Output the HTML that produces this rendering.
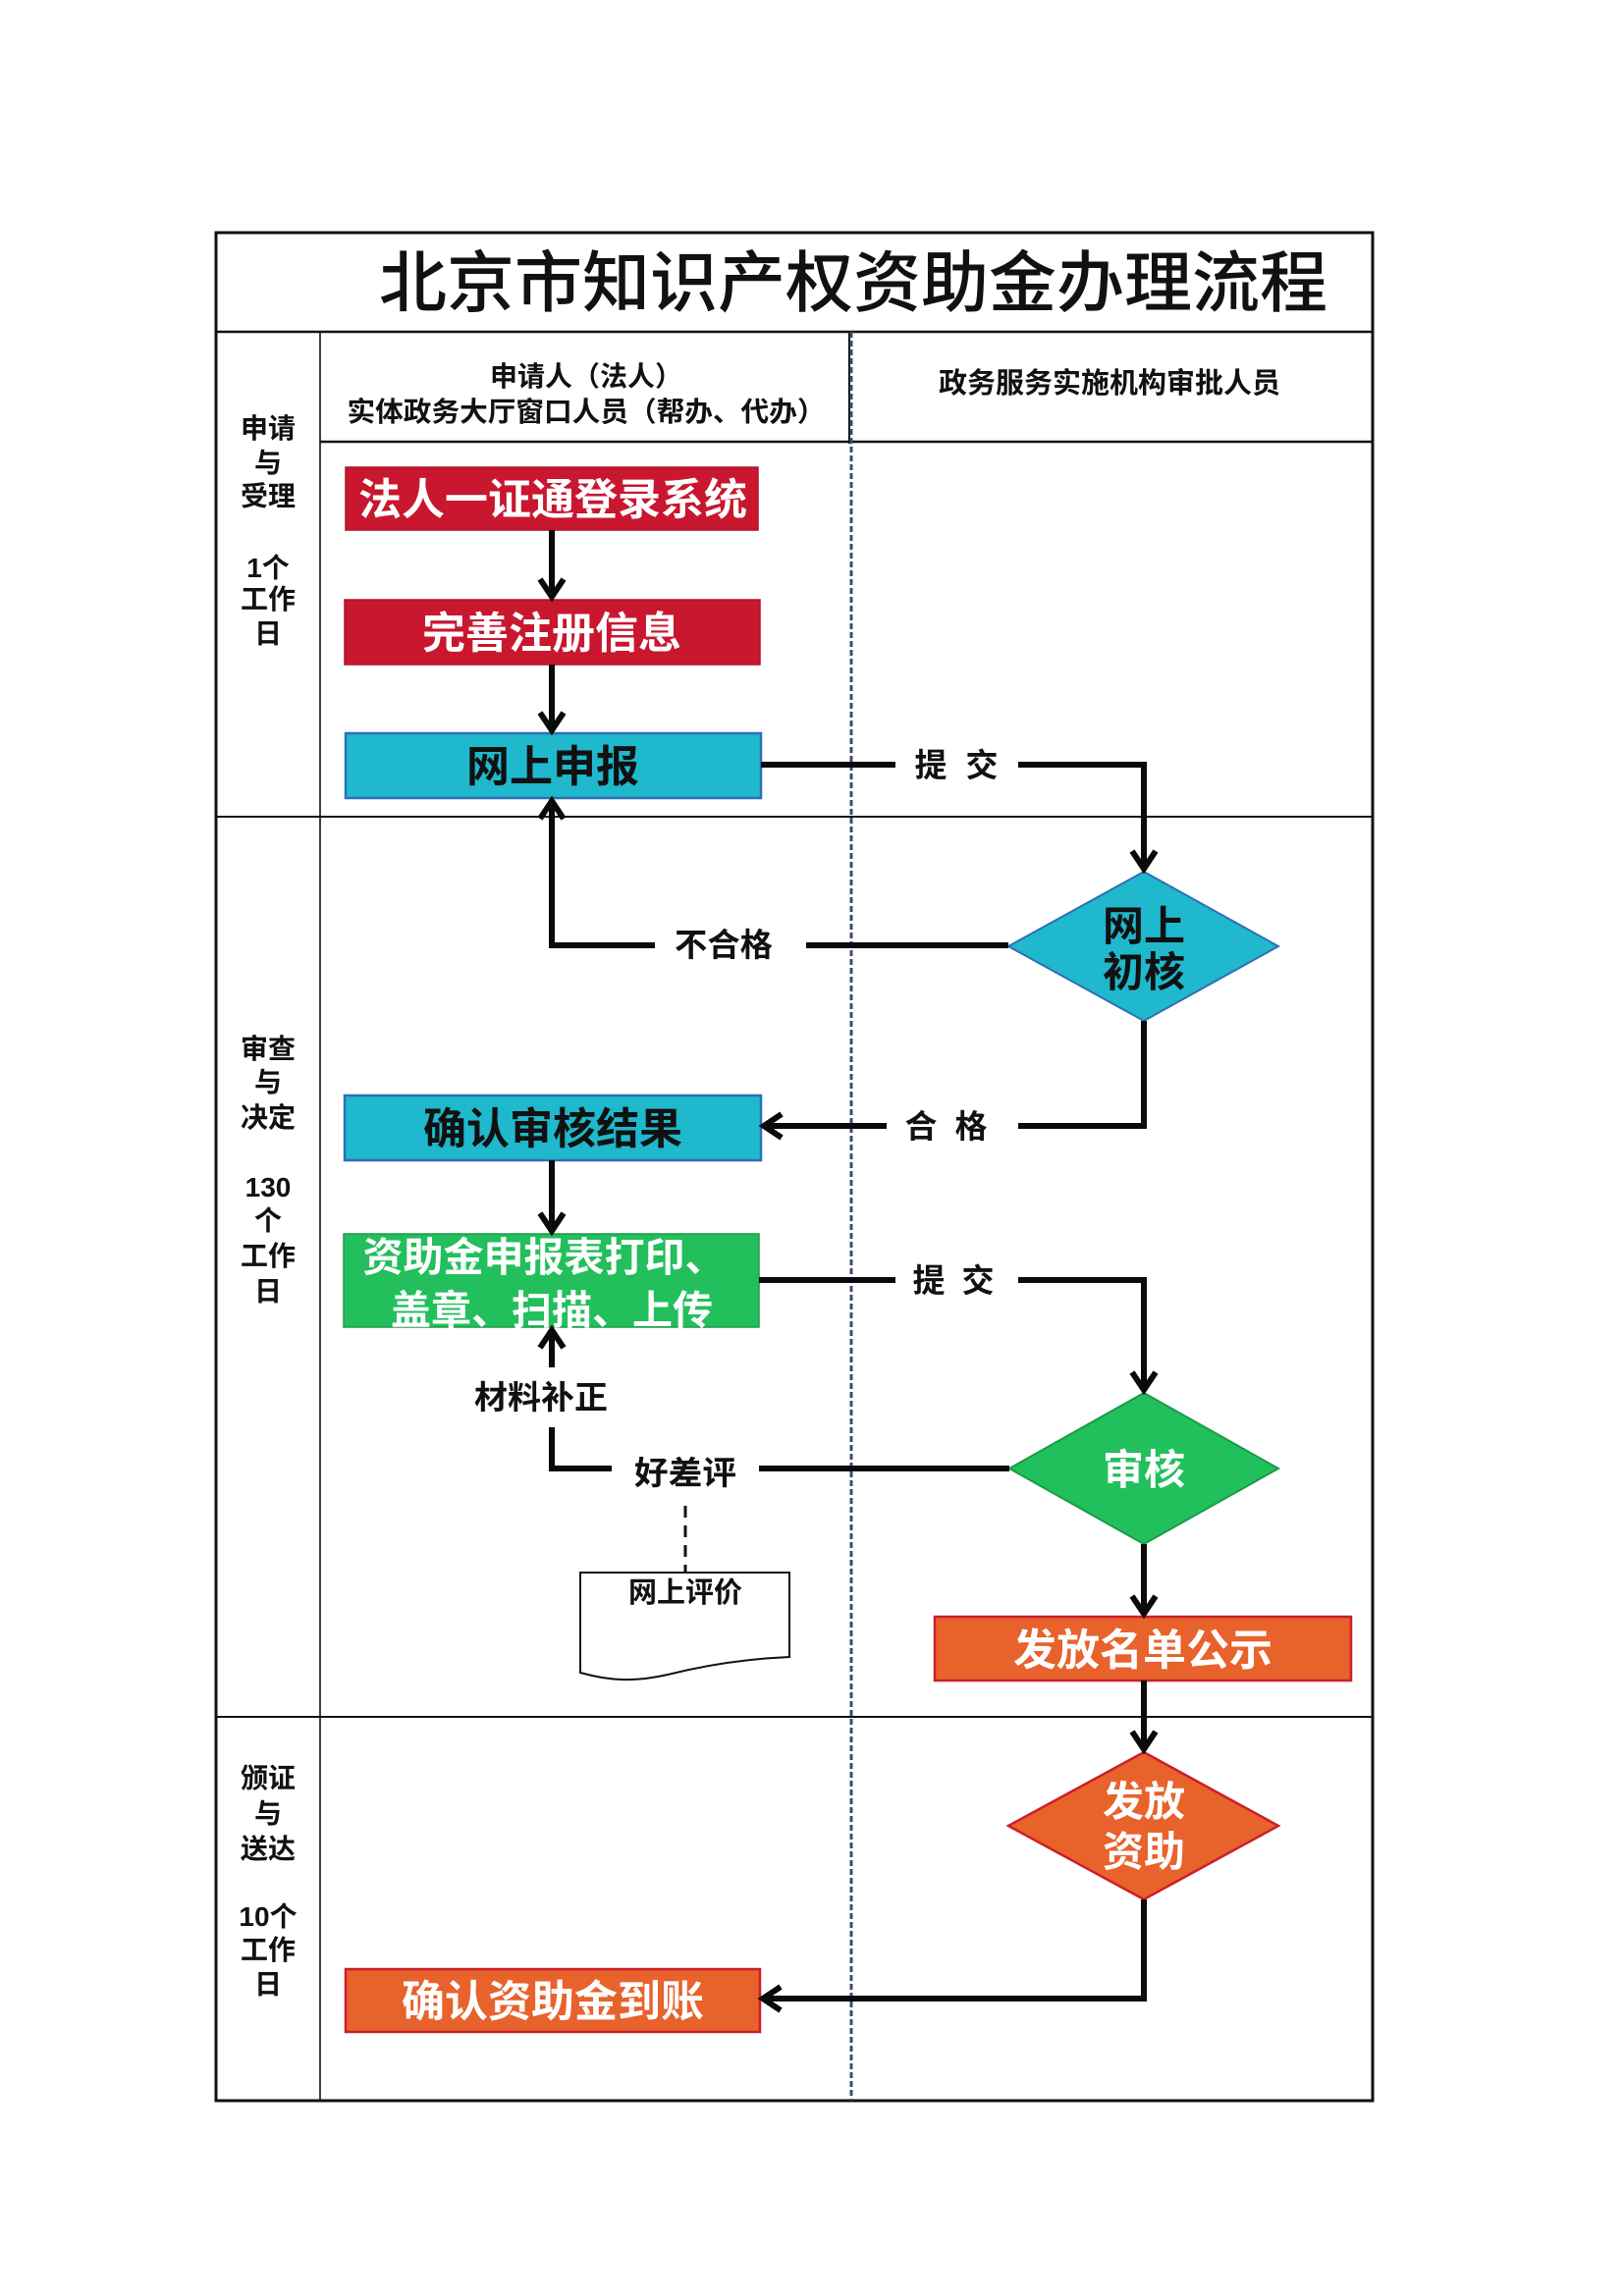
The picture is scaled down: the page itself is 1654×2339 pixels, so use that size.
<!DOCTYPE html>
<html>
<head>
<meta charset="utf-8">
<style>
  html, body { margin: 0; padding: 0; background: #ffffff; }
  body { width: 1654px; height: 2339px; overflow: hidden; }
  svg { display: block; }
  text { font-family: "Liberation Sans", "Noto Sans CJK SC", "WenQuanYi Zen Hei", sans-serif; }
</style>
</head>
<body>
<svg width="1654" height="2339" viewBox="0 0 1654 2339" xmlns="http://www.w3.org/2000/svg">
  <rect x="0" y="0" width="1654" height="2339" fill="#ffffff"/>

  <!-- Frame -->
  <rect x="220" y="237" width="1178" height="1903" fill="none" stroke="#111" stroke-width="3"/>
  <line x1="220" y1="338" x2="1398" y2="338" stroke="#111" stroke-width="2.5"/>
  <line x1="326" y1="338" x2="326" y2="2140" stroke="#111" stroke-width="1.6"/>
  <line x1="326" y1="450" x2="1398" y2="450" stroke="#111" stroke-width="2.5"/>
  <line x1="220" y1="832" x2="1398" y2="832" stroke="#111" stroke-width="2"/>
  <line x1="220" y1="1749" x2="1398" y2="1749" stroke="#111" stroke-width="2"/>
  <!-- lane divider -->
  <line x1="865" y1="338" x2="865" y2="452" stroke="#111" stroke-width="2"/>
  <line x1="867" y1="338" x2="867" y2="2140" stroke="#3a4d70" stroke-width="3" stroke-dasharray="6 3"/>

  <!-- Title -->
  <text x="386" y="312" font-size="68" font-weight="500" fill="#111" textLength="966" lengthAdjust="spacingAndGlyphs">北京市知识产权资助金办理流程</text>

  <!-- Lane headers -->
  <text x="597" y="393" font-size="28" font-weight="700" fill="#111" text-anchor="middle">申请人（法人）</text>
  <text x="597" y="429" font-size="28" font-weight="700" fill="#111" text-anchor="middle" textLength="487" lengthAdjust="spacingAndGlyphs">实体政务大厅窗口人员（帮办、代办）</text>
  <text x="1130" y="400" font-size="29" font-weight="700" fill="#111" text-anchor="middle" textLength="348" lengthAdjust="spacingAndGlyphs">政务服务实施机构审批人员</text>

  <!-- Left phase labels -->
  <g font-size="28" font-weight="700" fill="#111" text-anchor="middle">
    <text x="273" y="446">申请</text>
    <text x="273" y="481">与</text>
    <text x="273" y="515">受理</text>
    <text x="273" y="588">1个</text>
    <text x="273" y="620">工作</text>
    <text x="273" y="655">日</text>

    <text x="273" y="1078">审查</text>
    <text x="273" y="1112">与</text>
    <text x="273" y="1148">决定</text>
    <text x="273" y="1219">130</text>
    <text x="273" y="1253">个</text>
    <text x="273" y="1289">工作</text>
    <text x="273" y="1325">日</text>

    <text x="273" y="1821">颁证</text>
    <text x="273" y="1857">与</text>
    <text x="273" y="1893">送达</text>
    <text x="273" y="1962">10个</text>
    <text x="273" y="1996">工作</text>
    <text x="273" y="2031">日</text>
  </g>

  <!-- Boxes -->
  <rect x="352" y="476" width="420" height="64" fill="#c8172e" stroke="#b01228" stroke-width="1.5"/>
  <text x="563" y="524" font-size="44" font-weight="700" fill="#fff" text-anchor="middle" textLength="396" lengthAdjust="spacingAndGlyphs">法人一证通登录系统</text>

  <rect x="351" y="611" width="423" height="66" fill="#c8172e" stroke="#b01228" stroke-width="1.5"/>
  <text x="562" y="660" font-size="44" font-weight="700" fill="#fff" text-anchor="middle">完善注册信息</text>

  <rect x="352" y="747" width="423" height="66" fill="#1fb8cc" stroke="#2e6fb5" stroke-width="2.5"/>
  <text x="563" y="796" font-size="44" font-weight="700" fill="#111" text-anchor="middle">网上申报</text>

  <rect x="351" y="1116" width="424" height="66" fill="#1fb8cc" stroke="#2e6fb5" stroke-width="2.5"/>
  <text x="563" y="1165" font-size="44" font-weight="700" fill="#111" text-anchor="middle">确认审核结果</text>

  <rect x="350" y="1257" width="423" height="95" fill="#22bf5c" stroke="#1c9a49" stroke-width="1.5"/>
  <text x="554" y="1295" font-size="41" font-weight="700" fill="#fff" text-anchor="middle">资助金申报表打印、</text>
  <text x="562" y="1349" font-size="41" font-weight="700" fill="#fff" text-anchor="middle">盖章、扫描、上传</text>

  <rect x="952" y="1647" width="424" height="65" fill="#e8622c" stroke="#cc1f2a" stroke-width="2.5"/>
  <text x="1164" y="1696" font-size="44" font-weight="700" fill="#fff" text-anchor="middle">发放名单公示</text>

  <rect x="352" y="2006" width="422" height="64" fill="#e8622c" stroke="#cc1f2a" stroke-width="2.5"/>
  <text x="563" y="2054" font-size="44" font-weight="700" fill="#fff" text-anchor="middle">确认资助金到账</text>

  <!-- Diamonds -->
  <polygon points="1165,888 1302,964 1165,1040 1027,964" fill="#1fb8cc" stroke="#2e6fb5" stroke-width="2"/>
  <text x="1165" y="958" font-size="42" font-weight="700" fill="#111" text-anchor="middle">网上</text>
  <text x="1165" y="1005" font-size="42" font-weight="700" fill="#111" text-anchor="middle">初核</text>

  <polygon points="1165,1419 1302,1496 1165,1573 1028,1496" fill="#22c05c" stroke="#1c9a49" stroke-width="2"/>
  <text x="1165" y="1512" font-size="42" font-weight="700" fill="#fff" text-anchor="middle">审核</text>

  <polygon points="1165,1785 1302,1860 1165,1935 1027,1860" fill="#e8622c" stroke="#cc1f2a" stroke-width="2.5"/>
  <text x="1165" y="1850" font-size="42" font-weight="700" fill="#fff" text-anchor="middle">发放</text>
  <text x="1165" y="1901" font-size="42" font-weight="700" fill="#fff" text-anchor="middle">资助</text>

  <!-- Document shape -->
  <path d="M591,1602 L804,1602 L804,1688 C760,1690 720,1696 680,1706 C645,1714 620,1712 591,1704 Z" fill="#fff" stroke="#111" stroke-width="2"/>
  <text x="698" y="1632" font-size="29" font-weight="700" fill="#111" text-anchor="middle">网上评价</text>

  <!-- Connectors -->
  <g fill="none" stroke="#0a0a0a" stroke-width="6" stroke-linecap="butt" stroke-linejoin="miter">
    <!-- 1 -> 2 -->
    <line x1="562" y1="540" x2="562" y2="608"/>
    <polyline points="550,590 562,608 574,590"/>
    <!-- 2 -> 3 -->
    <line x1="562" y1="677" x2="562" y2="744"/>
    <polyline points="550,726 562,744 574,726"/>
    <!-- 提交 1 -->
    <line x1="775" y1="779" x2="912" y2="779"/>
    <polyline points="1037,779 1165,779 1165,885"/>
    <polyline points="1153,867 1165,885 1177,867"/>
    <!-- 不合格 -->
    <line x1="1027" y1="963" x2="821" y2="963"/>
    <polyline points="667,963 562,963 562,816"/>
    <polyline points="550,834 562,816 574,834"/>
    <!-- 合格 -->
    <polyline points="1165,1040 1165,1147 1037,1147"/>
    <line x1="903" y1="1147" x2="778" y2="1147"/>
    <polyline points="796,1135 778,1147 796,1159"/>
    <!-- 确认 -> 资助金 -->
    <line x1="562" y1="1182" x2="562" y2="1254"/>
    <polyline points="550,1236 562,1254 574,1236"/>
    <!-- 提交 2 -->
    <line x1="773" y1="1304" x2="912" y2="1304"/>
    <polyline points="1037,1304 1165,1304 1165,1416"/>
    <polyline points="1153,1398 1165,1416 1177,1398"/>
    <!-- 好差评 -->
    <line x1="1028" y1="1496" x2="773" y2="1496"/>
    <polyline points="623,1496 562,1496 562,1454"/>
    <line x1="562" y1="1393" x2="562" y2="1355"/>
    <polyline points="550,1373 562,1355 574,1373"/>
    <!-- 审核 -> 公示 -->
    <line x1="1165" y1="1573" x2="1165" y2="1644"/>
    <polyline points="1153,1626 1165,1644 1177,1626"/>
    <!-- 公示 -> 发放资助 -->
    <line x1="1165" y1="1712" x2="1165" y2="1782"/>
    <polyline points="1153,1764 1165,1782 1177,1764"/>
    <!-- 发放资助 -> 到账 -->
    <polyline points="1165,1935 1165,2036 777,2036"/>
    <polyline points="795,2024 777,2036 795,2048"/>
  </g>
  <line x1="698" y1="1534" x2="698" y2="1602" stroke="#111" stroke-width="3" stroke-dasharray="12 8"/>

  <!-- Connector labels -->
  <g font-size="33" font-weight="700" fill="#111" text-anchor="middle">
    <text x="948" y="791">提</text>
    <text x="1000" y="791">交</text>
    <text x="737" y="974" textLength="100" lengthAdjust="spacingAndGlyphs">不合格</text>
    <text x="938" y="1159">合</text>
    <text x="989" y="1159">格</text>
    <text x="946" y="1316">提</text>
    <text x="996" y="1316">交</text>
    <text x="551" y="1435" textLength="136" lengthAdjust="spacingAndGlyphs">材料补正</text>
    <text x="698" y="1512" textLength="104" lengthAdjust="spacingAndGlyphs">好差评</text>
  </g>
</svg>
</body>
</html>
